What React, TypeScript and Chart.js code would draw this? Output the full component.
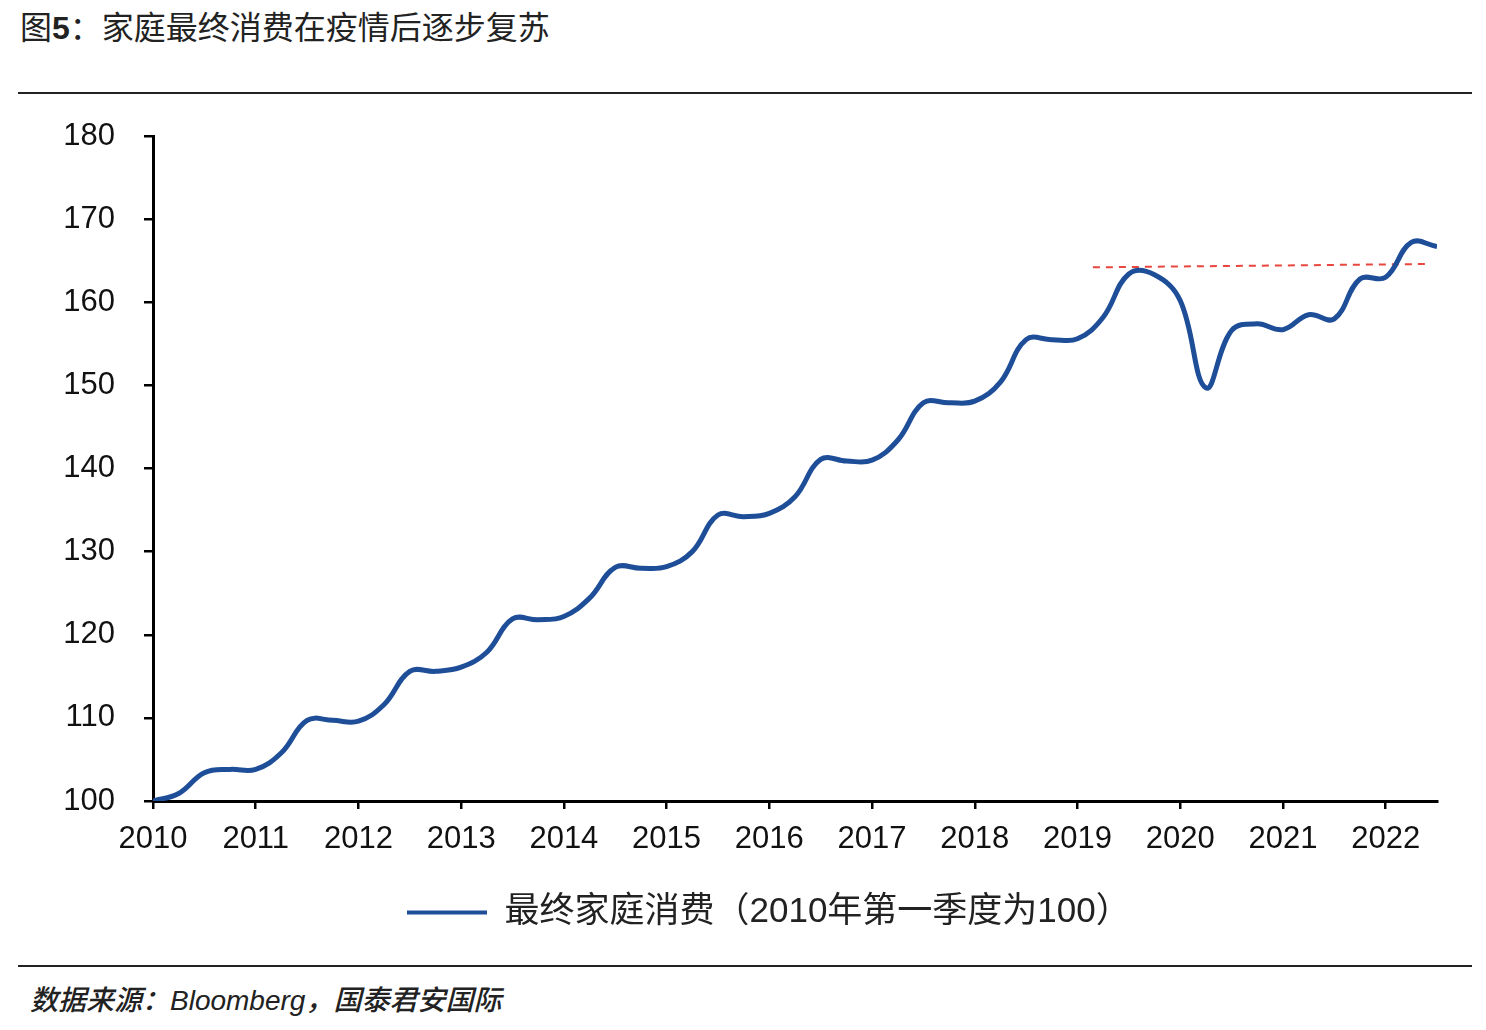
import React, { useEffect, useRef } from 'react';
import { Chart, registerables } from 'chart.js';

Chart.register(...registerables);

// ---------- data ----------
const quarterLabels = [
  '2010Q1', '2010Q2', '2010Q3', '2010Q4',
  '2011Q1', '2011Q2', '2011Q3', '2011Q4',
  '2012Q1', '2012Q2', '2012Q3', '2012Q4',
  '2013Q1', '2013Q2', '2013Q3', '2013Q4',
  '2014Q1', '2014Q2', '2014Q3', '2014Q4',
  '2015Q1', '2015Q2', '2015Q3', '2015Q4',
  '2016Q1', '2016Q2', '2016Q3', '2016Q4',
  '2017Q1', '2017Q2', '2017Q3', '2017Q4',
  '2018Q1', '2018Q2', '2018Q3', '2018Q4',
  '2019Q1', '2019Q2', '2019Q3', '2019Q4',
  '2020Q1', '2020Q2', '2020Q3', '2020Q4',
  '2021Q1', '2021Q2', '2021Q3', '2021Q4',
  '2022Q1', '2022Q2', '2022Q3',
];

const consumptionIndex = [
  100.0, 100.9, 103.4, 103.8,
  103.8, 105.8, 109.7, 109.7,
  109.6, 111.6, 115.6, 115.6,
  116.1, 117.9, 121.9, 121.8,
  122.2, 124.4, 128.1, 128.0,
  128.2, 130.0, 134.4, 134.2,
  134.6, 136.6, 141.1, 140.9,
  141.0, 143.4, 147.9, 147.9,
  148.1, 150.4, 155.5, 155.5,
  155.6, 158.2, 163.4, 163.3,
  160.2, 149.7, 156.6, 157.4,
  156.7, 158.5, 158.0, 162.8,
  163.0, 167.2, 166.7,
];

const yearTicks = [2010, 2011, 2012, 2013, 2014, 2015, 2016, 2017, 2018, 2019, 2020, 2021, 2022];
const refLineX = [2019.15, 2022.39];
const refLineY = [164.2, 164.6];

const TITLE_PREFIX = '图';
const TITLE_NUM = '5';
const TITLE_REST = '：家庭最终消费在疫情后逐步复苏';
const SERIES_NAME = '最终家庭消费（2010年第一季度为100）';
const SOURCE = '数据来源：Bloomberg，国泰君安国际';

const LINE_COLOR = '#1f4e98';
const REF_COLOR = '#e8463e';
const FONT = '"Liberation Sans", Arial, "Noto Sans CJK SC", sans-serif';
const LEGEND_LEFT = 397;

function quarterToX(label: string): number {
  const year = parseInt(label.slice(0, 4), 10);
  const q = parseInt(label.slice(5), 10);
  return year + (q - 1) / 4;
}

const legendShift = {
  id: 'legendShift',
  afterLayout(chart: any) {
    if (chart.legend) {
      chart.legend.left = LEGEND_LEFT;
    }
  },
};

export default function App() {
  const canvasRef = useRef<HTMLCanvasElement | null>(null);

  useEffect(() => {
    if (!canvasRef.current) return;
    const mainData = quarterLabels.map((l, i) => ({ x: quarterToX(l), y: consumptionIndex[i] }));
    const refData = refLineX.map((x, i) => ({ x, y: refLineY[i] }));

    const chart = new Chart(canvasRef.current, {
      type: 'line',
      data: {
        datasets: [
          {
            label: SERIES_NAME,
            data: mainData,
            borderColor: LINE_COLOR,
            backgroundColor: LINE_COLOR,
            borderWidth: 5,
            pointRadius: 0,
            tension: 0.4,
            fill: false,
          },
          {
            label: 'ref',
            data: refData,
            borderColor: REF_COLOR,
            borderWidth: 2,
            borderDash: [7, 6],
            pointRadius: 0,
            tension: 0,
            fill: false,
          },
        ],
      },
      plugins: [legendShift],
      options: {
        responsive: false,
        animation: false,
        devicePixelRatio: 1,
        layout: { padding: { top: 36, right: 49, left: 0, bottom: 0 } },
        plugins: {
          tooltip: { enabled: false },
          legend: {
            display: true,
            position: 'bottom',
            align: 'start',
            labels: {
              boxWidth: 80,
              boxHeight: 4,
              padding: 10,
              color: '#222',
              font: { size: 35, family: FONT },
              generateLabels: () => [
                {
                  text: SERIES_NAME,
                  fillStyle: LINE_COLOR,
                  strokeStyle: LINE_COLOR,
                  lineWidth: 0,
                  hidden: false,
                  datasetIndex: 0,
                  fontColor: '#222',
                },
              ],
            },
          },
        },
        scales: {
          x: {
            type: 'linear',
            min: 2010,
            max: 2022.5,
            afterBuildTicks: (scale: any) => {
              scale.ticks = yearTicks.map((v) => ({ value: v }));
            },
            afterFit: (scale: any) => {
              scale.height = 84;
            },
            ticks: {
              autoSkip: false,
              maxRotation: 0,
              padding: 12,
              color: '#111',
              font: { size: 31, family: FONT },
              callback: (v: any) => String(v),
            },
            grid: {
              display: true,
              drawOnChartArea: false,
              drawTicks: true,
              tickLength: 8,
              color: '#000',
              lineWidth: 2.5,
            },
            border: { display: true, color: '#000', width: 3 },
          },
          y: {
            min: 100,
            max: 180,
            afterFit: (scale: any) => {
              scale.width = 153;
              scale.paddingTop = 10;
              scale.paddingBottom = 10;
            },
            ticks: {
              stepSize: 10,
              padding: 29,
              color: '#111',
              font: { size: 31, family: FONT },
            },
            grid: {
              display: true,
              drawOnChartArea: false,
              drawTicks: true,
              tickLength: 9,
              color: '#000',
              lineWidth: 2.5,
            },
            border: { display: true, color: '#000', width: 3 },
          },
        },
      },
    });
    return () => chart.destroy();
  }, []);

  return (
    <div
      style={{
        position: 'absolute',
        left: 0,
        top: 0,
        width: 1486,
        height: 1030,
        background: '#fff',
        overflow: 'hidden',
        fontFamily: FONT,
      }}
    >
      <div
        style={{
          position: 'absolute',
          left: 20,
          top: 12,
          fontSize: 32,
          lineHeight: '32px',
          color: '#222',
          whiteSpace: 'nowrap',
        }}
      >
        {TITLE_PREFIX}
        <b>{TITLE_NUM}</b>
        {TITLE_REST}
      </div>
      <div style={{ position: 'absolute', left: 18, top: 92, width: 1454, height: 2, background: '#222' }} />
      <canvas
        ref={canvasRef}
        width={1486}
        height={840}
        style={{ position: 'absolute', left: 0, top: 100, width: 1486, height: 840 }}
      />
      <div style={{ position: 'absolute', left: 18, top: 965, width: 1454, height: 2, background: '#222' }} />
      <div
        style={{
          position: 'absolute',
          left: 30,
          top: 987,
          fontSize: 28,
          lineHeight: '28px',
          fontStyle: 'italic',
          fontWeight: 500,
          color: '#222',
          whiteSpace: 'nowrap',
        }}
      >
        {SOURCE}
      </div>
    </div>
  );
}
